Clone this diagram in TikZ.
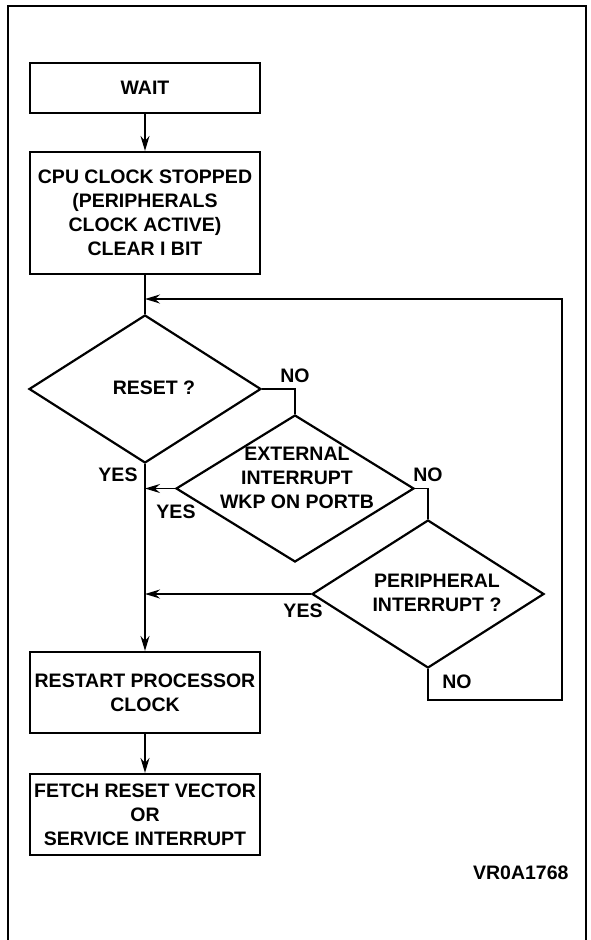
\documentclass[tikz,border=0pt]{standalone}
\usepackage{fontspec}
\setmainfont{Liberation Sans}
\usetikzlibrary{arrows.meta, shapes.geometric}

\tikzset{
    box/.style={draw, line width=2.2pt, minimum width=230pt, inner sep=0pt, align=center},
    decision/.style={draw, diamond, line width=2.2pt, inner sep=0pt},
    flow/.style={line width=1.7pt, -{Stealth[length=15pt, width=9pt, inset=5pt]}},
    link/.style={line width=1.7pt},
}

\begin{document}
\begin{tikzpicture}[x=1pt, y=-1pt, font=\fontsize{19.5}{24}\selectfont\bfseries]
        \useasboundingbox (0,0) rectangle (590,940);
        \draw[line width=2.5pt] (8,945) -- (8,6) -- (586,6) -- (586,945);

        \node[box, minimum height=50pt] (wait) at (145,88) {WAIT};
        \node[box, minimum height=122pt] (stop) at (145,213) {CPU CLOCK STOPPED\\(PERIPHERALS\\CLOCK ACTIVE)\\CLEAR I BIT};
        \node[box, minimum height=81pt] (restart) at (145,692.5) {RESTART PROCESSOR\\CLOCK};
        \node[box, minimum height=81pt] (fetch) at (145,814.5) {FETCH RESET VECTOR\\OR\\SERVICE INTERRUPT};

        \node[decision, minimum width=232pt, minimum height=148pt] (reset) at (145,389) {};
        \node[decision, minimum width=238pt, minimum height=147pt] (ext) at (295,488.5) {};
        \node[decision, minimum width=232pt, minimum height=148pt] (peri) at (428,594) {};
        \node (resettxt) at (154,388) {RESET ?};
        \node[align=center] (exttxt) at (297,478) {EXTERNAL\\INTERRUPT\\WKP ON PORTB};
        \node[align=center] (peritxt) at (437,593) {PERIPHERAL\\INTERRUPT ?};

        \node (no1) at (295,376) {NO};
        \node (no2) at (428,475) {NO};
        \node (no3) at (457,682) {NO};
        \node (yes1) at (118,475) {YES};
        \node (yes2) at (176,512) {YES};
        \node (yes3) at (303,611) {YES};
        \node[anchor=east] (ref) at (572,873) {VR0A1768};

        \coordinate (join) at (145,299);
        \coordinate (loop) at (562,700);

        \draw[flow] (wait) -- (stop);
        \draw[link] (stop) -- (reset.north);
        \draw[flow] (reset.south) -- (restart);
        \draw[flow] (restart) -- (fetch);
        \draw[link] (reset.east) -| (ext.north);
        \draw[link] (ext.east) -| (peri.north);
        \draw[flow] (ext.west) -- (ext.west -| reset.south);
        \draw[flow] (peri.west) -- (peri.west -| reset.south);
        \draw[flow] (peri.south) |- (loop) |- (join);
    \end{tikzpicture}
\end{document}
